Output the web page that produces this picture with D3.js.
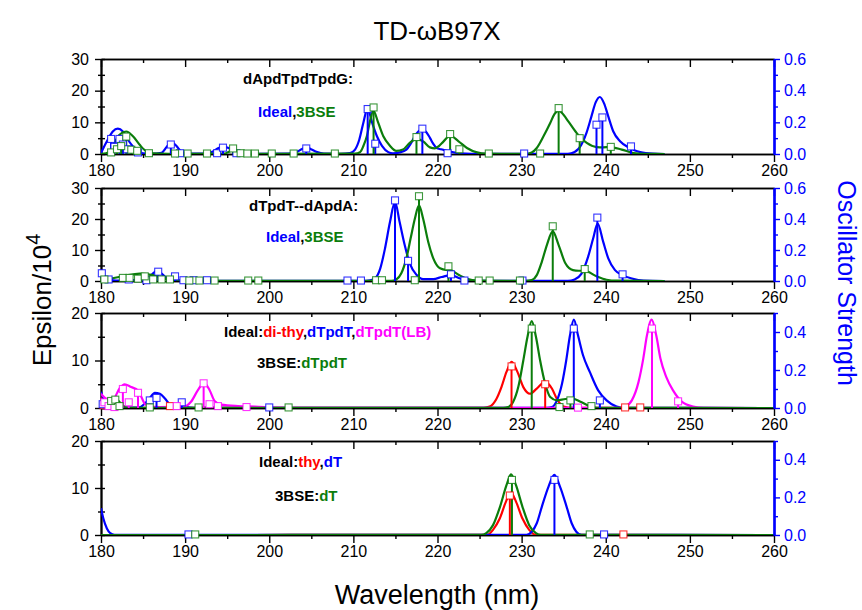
<!DOCTYPE html>
<html>
<head>
<meta charset="utf-8">
<script src="https://cdn.jsdelivr.net/npm/d3@7"></script>
<style>
  body { margin: 0; background: #fff; }
  text { font-family: "Liberation Sans", Arial, Helvetica, sans-serif; }
</style>
</head>
<body>
<svg id="chart" width="862" height="610"></svg>
<script>
// ---------- data ----------
const wavelengthTicks = [180, 190, 200, 210, 220, 230, 240, 250, 260];
const wavelengthMinor = [185, 195, 205, 215, 225, 235, 245, 255];

// Panel 1: dApdTpdTpdG  (curves: [nm, epsilon/1e4], sticks: [nm, oscillator strength])
const p1IdealCurve = [[180,0.2],[180.2,1.4],[180.8,4.5],[181.4,7.1],[182.0,8.0],[182.6,7.1],[183.2,4.5],[183.8,2.4],[184.4,0.8],[185.0,0.2],[186.0,0.05],[187.2,0.4],[187.8,2.2],[188.35,3.7],[188.95,2.6],[189.5,0.8],[190.2,0.1],[192.5,0.1],[193.3,0.8],[193.9,1.8],[194.5,2.4],[195.2,1.8],[195.9,0.8],[196.7,0.15],[198,0.05],[202.3,0.1],[203.3,0.7],[203.9,1.6],[204.4,2.1],[204.9,1.6],[205.6,0.7],[206.5,0.1],[208.5,0.05],[209.6,0.3],[210.2,1.4],[210.7,4.5],[211.18,9.8],[211.7,14.5],[212.18,10.3],[212.8,5.6],[213.4,2.6],[214.15,0.6],[214.7,0.2],[215.5,0.5],[216.3,1.4],[216.8,3.2],[217.3,5.6],[217.8,7.3],[218.3,7.7],[218.7,6.8],[219.1,5.1],[219.5,3.2],[219.9,1.9],[220.4,1.5],[221.0,1.1],[221.6,0.7],[222.7,0.2],[224,0.05],[235.5,0.05],[236.3,0.6],[237.1,2.9],[237.7,6.6],[238.3,11.9],[238.8,16.3],[239.3,18.0],[239.8,16.0],[240.3,11.9],[240.9,7.1],[241.7,4.0],[242.7,2.1],[243.4,1.2],[244.1,0.6],[245.6,0.1],[247,0]];
const p1BseCurve = [[180,0],[180.6,0.2],[181.2,1.2],[181.6,3.5],[182.2,6.1],[183.0,7.1],[183.8,5.6],[184.6,2.9],[185.4,0.8],[186.2,0.2],[188,0.05],[189,0.2],[190,0.05],[194.6,0.1],[195.2,0.7],[195.7,1.4],[196.3,0.7],[197,0.1],[199,0.03],[210.2,0.1],[210.8,0.6],[211.2,2.6],[211.6,5.6],[211.97,10.3],[212.37,13.7],[212.96,9.8],[213.56,5.6],[214.35,2.6],[215.1,1.0],[215.9,1.4],[216.7,3.5],[217.5,4.7],[218.3,4.0],[219.1,2.1],[219.7,1.8],[220.2,2.6],[220.7,3.9],[221.5,5.8],[222.5,4.0],[223.5,1.9],[224.7,0.5],[225.8,0.1],[230.5,0.05],[231.2,0.5],[231.8,1.9],[232.6,5.6],[233.4,9.8],[233.9,12.6],[234.44,13.7],[235.0,12.3],[235.55,10.3],[236.55,6.6],[237.74,3.5],[238.9,2.2],[239.7,2.1],[240.5,2.2],[241.9,1.4],[243.3,0.3],[244.5,0.05],[247,0]];
const p1IdealSticks = [[181.2,0.095],[181.6,0.045],[182.2,0.095],[182.6,0.06],[183.1,0.03],[184.4,0.01],[188.3,0.06],[189.4,0.005],[193.8,0.005],[194.5,0.04],[196.1,0.005],[204.4,0.035],[211.7,0.284],[212.6,0.065],[218.2,0.16],[221.2,0.005],[230.3,0.003],[238.9,0.185],[239.6,0.231],[243.0,0.048]];
const p1BseSticks = [[181.2,0.01],[181.9,0.03],[182.4,0.05],[183.0,0.11],[183.6,0.027],[184.3,0.02],[185.7,0.005],[188.8,0.003],[190.3,0.003],[192.6,0.003],[195.7,0.035],[196.6,0.005],[197.4,0.003],[198.3,0.003],[200.3,0.003],[202.9,0.003],[207.8,0.003],[212.4,0.294],[217.5,0.107],[221.5,0.126],[222.6,0.03],[226.1,0.003],[232.2,0.003],[234.4,0.29],[236.9,0.1],[240.6,0.045]];

// Panel 2: dTpdT--dApdA
const p2IdealCurve = [[180,3.0],[180.5,1.4],[181.1,0.5],[181.8,0.1],[183,0.2],[184.5,0.4],[185.6,0.9],[186.1,2.2],[186.6,3.2],[187.1,2.6],[187.6,1.4],[188.4,0.3],[189.5,0.1],[191,0.05],[211.5,0.05],[212.0,0.2],[212.6,0.9],[213.2,4.1],[213.76,10.5],[214.35,19.0],[214.95,25.5],[215.5,19.0],[216.1,11.6],[216.7,5.7],[217.5,2.0],[218.3,0.6],[219.5,0.6],[220.5,1.3],[221.6,1.9],[222.7,0.8],[223.9,0.1],[235.5,0.05],[236.3,0.5],[237.1,2.3],[237.9,7.8],[238.5,13.7],[239.04,18.5],[239.7,12.6],[240.3,7.3],[241.1,3.5],[242.0,1.9],[243.1,0.8],[244.5,0.1],[247,0]];
const p2BseCurve = [[180,0.3],[181.2,0.8],[182.7,1.6],[184.6,2.4],[186.2,1.9],[187.4,0.8],[188.6,0.3],[190,0.1],[192,0.05],[214.5,0.05],[215.1,0.5],[215.7,2.5],[216.3,7.3],[216.8,13.7],[217.3,20.0],[217.8,24.4],[218.3,20.0],[218.9,12.6],[219.5,7.3],[220.3,4.1],[221.0,3.6],[221.4,3.6],[222.5,2.0],[223.5,0.7],[224.7,0.1],[230.5,0.05],[231.2,0.3],[231.8,1.9],[232.4,6.2],[233.0,11.6],[233.7,16.0],[234.4,11.6],[235.2,5.7],[236.1,3.5],[236.8,3.3],[237.5,3.3],[238.9,1.5],[240.1,0.4],[241.3,0.1],[247,0]];
const p2IdealSticks = [[180.1,0.05],[180.9,0.01],[183.3,0.01],[185.4,0.005],[186.8,0.06],[188.8,0.03],[189.8,0.005],[191.0,0.005],[192.6,0.005],[209.3,0.003],[210.9,0.003],[214.95,0.52],[216.5,0.13],[221.6,0.043],[223.2,0.003],[230.1,0.003],[239.0,0.409],[242.0,0.043]];
const p2BseSticks = [[180.4,0.01],[182.6,0.02],[183.4,0.02],[184.4,0.015],[185.2,0.03],[186.2,0.01],[187.2,0.01],[188.2,0.01],[190.5,0.003],[191.7,0.003],[193.5,0.003],[197.5,0.003],[198.7,0.003],[212.7,0.005],[213.4,0.005],[217.3,0.005],[217.8,0.547],[221.3,0.095],[224.9,0.003],[226.2,0.003],[229.8,0.003],[233.7,0.353],[237.5,0.077]];

// Panel 3: di-thy / dTpdT / dTpdT(LB) / 3BSE dTpdT
const p3DithyCurve = [[180,2.5],[180.6,0.8],[181.2,0.1],[182.5,0.05],[187.6,0.05],[188.2,0.4],[188.8,0.05],[225.5,0.05],[226.2,0.3],[227.0,1.9],[227.6,4.4],[228.2,7.6],[228.82,9.7],[229.5,7.6],[230.2,4.4],[231.0,3.0],[231.8,4.1],[232.78,5.5],[233.6,4.1],[234.2,1.9],[235.0,0.3],[236,0.03],[260,0]];
const p3DtpdtCurve = [[180,3.4],[180.3,1.8],[180.6,0.9],[181.1,0.1],[184.5,0.1],[185.2,0.9],[185.8,2.1],[186.4,3.2],[187.0,3.0],[187.6,2.0],[188.2,0.7],[188.8,0.3],[189.5,0.7],[190.2,0.2],[191,0.05],[233.0,0.05],[233.6,0.2],[234.2,1.6],[234.8,5.1],[235.3,10.0],[235.75,15.3],[236.21,18.6],[236.7,15.3],[237.3,11.1],[238.1,7.6],[239.1,3.7],[240.1,1.6],[241.3,0.3],[242.3,0.03],[260,0]];
const p3LbCurve = [[180,3.0],[180.6,2.0],[181.4,1.8],[182.2,4.1],[182.8,5.0],[183.6,4.4],[184.4,3.7],[184.8,2.3],[185.2,0.9],[185.8,0.3],[187,0.2],[189.9,0.3],[190.7,1.3],[191.5,3.7],[192.24,5.3],[192.9,3.8],[193.5,1.5],[194.3,0.7],[196.3,0.4],[198.3,0.3],[200.7,0.1],[203,0.03],[241.5,0.05],[242.3,0.3],[243.1,1.6],[243.9,5.5],[244.46,10.4],[244.9,15.3],[245.46,18.6],[246.0,15.3],[246.5,10.4],[247.2,6.5],[248.0,3.7],[249.0,1.4],[250.4,0.3],[251.6,0.03],[260,0]];
const p3BseCurve = [[180,0.3],[180.8,0.5],[181.6,1.8],[182.0,1.6],[182.6,0.5],[183.3,0.05],[227.8,0.05],[228.4,0.2],[229.0,1.3],[229.6,4.4],[230.2,10.0],[230.7,15.0],[231.2,18.3],[231.7,15.0],[232.2,10.0],[232.8,5.1],[233.4,2.3],[234.2,1.6],[235.2,1.9],[236.0,2.0],[237.0,1.3],[238.2,0.3],[239,0.03],[260,0]];
const p3DithySticks = [[180.3,0.015],[188.2,0.01],[228.8,0.219],[232.8,0.125],[242.3,0.003],[244.1,0.003]];
const p3DtpdtSticks = [[180.2,0.02],[185.8,0.04],[186.6,0.053],[189.6,0.03],[200.0,0.003],[236.2,0.418],[239.3,0.04]];
const p3LbSticks = [[180.4,0.03],[180.9,0.01],[181.6,0.005],[182.6,0.10],[183.3,0.03],[184.4,0.08],[189.0,0.01],[192.2,0.13],[192.9,0.02],[193.9,0.01],[197.3,0.005],[236.7,0.002],[245.5,0.418],[248.6,0.035]];
const p3BseSticks = [[181.2,0.037],[181.7,0.044],[182.2,0.01],[185.8,0.003],[191.6,0.003],[202.3,0.003],[231.2,0.418],[234.5,0.005],[235.8,0.04],[238.3,0.01]];

// Panel 4: thy / dT / 3BSE dT
const p4ThyCurve = [[180,0],[225.5,0.02],[226.0,0.1],[226.6,1.1],[227.4,3.5],[228.14,7.1],[228.74,9.0],[229.33,7.1],[230.1,3.5],[230.9,1.1],[231.6,0.1],[232.2,0.02],[260,0]];
const p4DtCurve = [[180,5.7],[180.28,3.5],[180.7,1.4],[181.1,0.4],[181.6,0.05],[230.0,0.02],[230.6,0.05],[231.2,0.7],[231.8,2.5],[232.4,6.0],[233.2,10.3],[233.89,12.8],[234.56,10.3],[235.35,6.0],[235.95,2.5],[236.5,0.7],[237.1,0.05],[237.6,0.02],[260,0]];
const p4BseCurve = [[180,0],[225.2,0.02],[225.8,0.4],[226.6,2.1],[227.43,6.0],[228.2,10.6],[228.74,12.9],[229.33,10.6],[230.1,6.0],[230.9,2.1],[231.7,0.4],[232.3,0.02],[260,0]];
const p4ThySticks = [[228.6,0.21],[242.1,0.003]];
const p4DtSticks = [[190.4,0.003],[233.9,0.293],[239.8,0.003]];
const p4BseSticks = [[191.2,0.003],[228.85,0.293],[238.1,0.003]];

// Axis ranges and tick labels for each panel
const epsMaxima = [30, 30, 20, 20];
const epsTickSets = [[0,10,20,30],[0,10,20,30],[0,10,20],[0,10,20]];
const fMaxima = [0.6, 0.6, 0.5, 0.5];
const fTickSets = [[0,0.2,0.4,0.6],[0,0.2,0.4,0.6],[0,0.2,0.4],[0,0.2,0.4]];

// ---------- styling ----------
const BLUE = "#0000ff", GREEN = "#0b7d0b", RED = "#ff0000", MAGENTA = "#ff00ff", BLACK = "#000";
const FONT = "'Liberation Sans', Arial, Helvetica, sans-serif";

const panels = [
  { series: [
      { color: BLUE, curve: p1IdealCurve, sticks: p1IdealSticks },
      { color: GREEN, curve: p1BseCurve, sticks: p1BseSticks } ],
    labels: [
      { x: 243, y: 84, parts: [["dApdTpdTpdG:", BLACK]] },
      { x: 258, y: 117, parts: [["Ideal", BLUE], [",", BLACK], ["3BSE", GREEN]] } ] },
  { series: [
      { color: BLUE, curve: p2IdealCurve, sticks: p2IdealSticks },
      { color: GREEN, curve: p2BseCurve, sticks: p2BseSticks } ],
    labels: [
      { x: 249, y: 211, parts: [["dTpdT--dApdA:", BLACK]] },
      { x: 266, y: 242, parts: [["Ideal", BLUE], [",", BLACK], ["3BSE", GREEN]] } ] },
  { series: [
      { color: RED, curve: p3DithyCurve, sticks: p3DithySticks },
      { color: BLUE, curve: p3DtpdtCurve, sticks: p3DtpdtSticks },
      { color: MAGENTA, curve: p3LbCurve, sticks: p3LbSticks },
      { color: GREEN, curve: p3BseCurve, sticks: p3BseSticks } ],
    labels: [
      { x: 224, y: 337, parts: [["Ideal:", BLACK], ["di-thy", RED], [",", BLACK], ["dTpdT", BLUE], [",", BLACK], ["dTpdT(LB)", MAGENTA]] },
      { x: 257, y: 368, parts: [["3BSE:", BLACK], ["dTpdT", GREEN]] } ] },
  { series: [
      { color: RED, curve: p4ThyCurve, sticks: p4ThySticks },
      { color: BLUE, curve: p4DtCurve, sticks: p4DtSticks },
      { color: GREEN, curve: p4BseCurve, sticks: p4BseSticks } ],
    labels: [
      { x: 259, y: 467, parts: [["Ideal:", BLACK], ["thy", RED], [",", BLACK], ["dT", BLUE]] },
      { x: 275, y: 501, parts: [["3BSE:", BLACK], ["dT", GREEN]] } ] }
];

// ---------- layout ----------
const svg = d3.select("#chart");
const X0 = 101, X1 = 774;
const panelBoxes = [[59, 154], [188, 281], [313, 408], [441, 535]];
const x = d3.scaleLinear().domain([180, 260]).range([X0, X1]);

function minorSteps(max, step) { return d3.range(0, max + 1e-9, step); }

function styleAxis(g, color, fontSize) {
  g.attr("font-family", FONT).attr("font-size", fontSize);
  g.selectAll("path.domain").attr("stroke", color).attr("stroke-width", 1.6);
  g.selectAll(".tick line").attr("stroke", color).attr("stroke-width", 1.4);
  g.selectAll(".tick text").attr("fill", color);
}

panels.forEach((p, i) => {
  const [top, bottom] = panelBoxes[i];
  const g = svg.append("g");
  const yL = d3.scaleLinear().domain([0, epsMaxima[i]]).range([bottom, top]);
  const yR = d3.scaleLinear().domain([0, fMaxima[i]]).range([bottom, top]);

  // top frame with inward ticks
  g.append("g").attr("transform", `translate(0,${top})`)
    .call(d3.axisBottom(x).tickValues(wavelengthTicks).tickSize(8).tickSizeOuter(0).tickFormat(""))
    .call(a => styleAxis(a, BLACK, 16));
  g.append("g").attr("transform", `translate(0,${top})`)
    .call(d3.axisBottom(x).tickValues(wavelengthMinor).tickSize(4).tickSizeOuter(0).tickFormat(""))
    .call(a => styleAxis(a, BLACK, 16));

  // bottom axis with labels
  g.append("g").attr("transform", `translate(0,${bottom})`)
    .call(d3.axisBottom(x).tickValues(wavelengthTicks).tickSize(8).tickPadding(3).tickSizeOuter(0).tickFormat(d3.format("d")))
    .call(a => styleAxis(a, BLACK, 16));
  g.append("g").attr("transform", `translate(0,${bottom})`)
    .call(d3.axisBottom(x).tickValues(wavelengthMinor).tickSize(4).tickSizeOuter(0).tickFormat(""))
    .call(a => styleAxis(a, BLACK, 16));

  // left axis: outward labelled ticks, inward ticks at every 5 units
  g.append("g").attr("transform", `translate(${X0},0)`)
    .call(d3.axisLeft(yL).tickValues(epsTickSets[i]).tickSize(6).tickPadding(6).tickSizeOuter(0).tickFormat(d3.format("d")))
    .call(a => styleAxis(a, BLACK, 16));
  g.append("g").attr("transform", `translate(${X0},0)`)
    .call(d3.axisLeft(yL).tickValues(minorSteps(epsMaxima[i], 5).filter(v => v % 10 !== 0)).tickSize(3).tickSizeOuter(0).tickFormat(""))
    .call(a => styleAxis(a, BLACK, 16));
  g.append("g").attr("transform", `translate(${X0},0)`)
    .call(d3.axisRight(yL).tickValues(minorSteps(epsMaxima[i], 5)).tickSize(4).tickSizeOuter(0).tickFormat(""))
    .call(a => styleAxis(a, BLACK, 16));

  // curves
  const clipId = `clip${i}`;
  svg.append("clipPath").attr("id", clipId).append("rect")
    .attr("x", X0).attr("y", top - 2).attr("width", X1 - X0).attr("height", bottom - top + 2);
  const line = d3.line().x(d => x(d[0])).y(d => yL(d[1])).curve(d3.curveMonotoneX);
  const plot = g.append("g").attr("clip-path", `url(#${clipId})`);
  p.series.forEach(s => {
    plot.append("path").attr("d", line(s.curve))
      .attr("fill", "none").attr("stroke", s.color).attr("stroke-width", 2.2)
      .attr("stroke-linejoin", "round");
  });

  // oscillator strength sticks
  p.series.forEach(s => {
    plot.selectAll(null).data(s.sticks).enter().append("line")
      .attr("x1", d => x(d[0])).attr("x2", d => x(d[0]))
      .attr("y1", yR(0)).attr("y2", d => yR(d[1]))
      .attr("stroke", s.color).attr("stroke-width", 2);
  });
  p.series.forEach(s => {
    g.selectAll(null).data(s.sticks).enter().append("rect")
      .attr("x", d => x(d[0]) - 3.5).attr("y", d => yR(d[1]) - 3.5)
      .attr("width", 7).attr("height", 7)
      .attr("fill", "#fff").attr("stroke", s.color).attr("stroke-width", 1.1)
      .attr("stroke-opacity", 0.8);
  });

  // right axis (oscillator strength)
  g.append("g").attr("transform", `translate(${X1},0)`)
    .call(d3.axisRight(yR).tickValues(fTickSets[i]).tickSize(6).tickPadding(4).tickSizeOuter(0).tickFormat(d3.format(".1f")))
    .call(a => styleAxis(a, BLUE, 16));
  g.append("g").attr("transform", `translate(${X1},0)`)
    .call(d3.axisRight(yR).tickValues(minorSteps(fMaxima[i], 0.1).filter((v, k) => k % 2 === 1)).tickSize(4).tickSizeOuter(0).tickFormat(""))
    .call(a => styleAxis(a, BLUE, 16));
  g.selectAll("path.domain").filter(function () { return this.getAttribute("stroke") === BLUE; })
    .attr("stroke-width", 2.2);

  // annotations
  p.labels.forEach(l => {
    const t = g.append("text").attr("x", l.x).attr("y", l.y)
      .attr("font-size", 15).attr("font-weight", "bold").attr("font-family", FONT);
    l.parts.forEach(([str, col]) => t.append("tspan").text(str).attr("fill", col));
  });
});

// ---------- titles ----------
svg.append("text").attr("x", 437).attr("y", 40).attr("text-anchor", "middle")
  .attr("font-size", 26).attr("font-family", FONT).text("TD-ωB97X");

svg.append("text").attr("x", 437).attr("y", 604).attr("text-anchor", "middle")
  .attr("font-size", 27).attr("font-family", FONT).text("Wavelength (nm)");

const yTitle = svg.append("text").attr("transform", "translate(51,300) rotate(-90)")
  .attr("text-anchor", "middle").attr("font-size", 26).attr("font-family", FONT);
yTitle.append("tspan").text("Epsilon/10");
yTitle.append("tspan").attr("dy", -11).attr("font-size", 20).text("4");

svg.append("text").attr("transform", "translate(838,283) rotate(90)")
  .attr("text-anchor", "middle").attr("font-size", 25).attr("font-family", FONT)
  .attr("fill", BLUE).text("Oscillator Strength");
</script>
</body>
</html>
